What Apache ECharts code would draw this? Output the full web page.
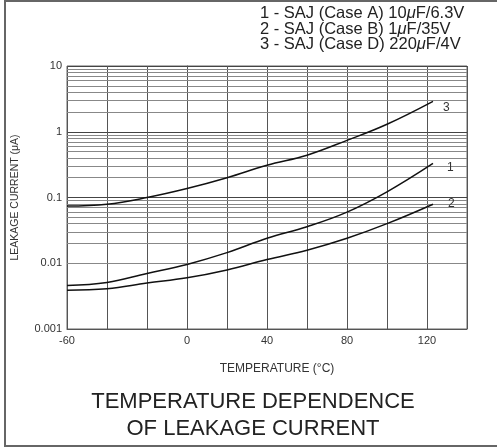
<!DOCTYPE html>
<html>
<head>
<meta charset="utf-8">
<script src="https://cdn.jsdelivr.net/npm/echarts@6/dist/echarts.min.js"></script>
<style>
  html, body { margin: 0; padding: 0; background: #fff; }
  #main { width: 497px; height: 448px; }
</style>
</head>
<body>
<div id="main"></div>
<script>
// temperature (°C) where the curves were read
var temps = [-60, -40, -20, 0, 20, 40, 60, 80, 100, 123];
// leakage current (µA)
var caseA = [0.0046, 0.0051, 0.0070, 0.0096, 0.0145, 0.024, 0.036, 0.060, 0.122, 0.33];
var caseB = [0.0039, 0.0041, 0.0050, 0.0060, 0.0079, 0.0114, 0.0158, 0.024, 0.040, 0.079];
var caseD = [0.074, 0.079, 0.100, 0.137, 0.200, 0.31, 0.44, 0.74, 1.30, 2.9];

var xLabels = [-60, 0, 40, 80, 120];
var yLabels = [0.001, 0.01, 0.1, 1, 10];
var decades = [0.001, 0.01, 0.1, 1];
var minorSteps = [2, 3, 4, 5, 6, 7, 8, 9];

var legendLines = [
  ['1 - SAJ (Case A) 10', 'F/6.3V'],
  ['2 - SAJ (Case B) 1', 'F/35V'],
  ['3 - SAJ (Case D) 220', 'F/4V']
];

var FONT = 'Liberation Sans, Arial, sans-serif';

function pairs(vals) {
  return temps.map(function (t, i) { return [t, vals[i]]; });
}

// minor log grid lines (2..9 in every decade)
var minorLines = [];
decades.forEach(function (d) {
  minorSteps.forEach(function (m) {
    minorLines.push({ yAxis: +(d * m).toPrecision(3) });
  });
});

function curve(name, vals, off) {
  return {
    name: name,
    type: 'line',
    data: pairs(vals),
    smooth: 0.4,
    symbol: 'none',
    lineStyle: { color: '#111', width: 1.5 },
    endLabel: {
      show: true,
      formatter: name,
      color: '#333',
      fontFamily: FONT,
      fontSize: 12,
      offset: off
    },
    z: 5
  };
}

var legendText = legendLines.map(function (p) {
  return '{t|' + p[0] + '}{mu|\u03bc}{t|' + p[1] + '}';
}).join('\n');

var myChart = echarts.init(document.getElementById('main'));

var option = {
  animation: false,
  backgroundColor: '#fff',
  grid: {
    left: 67,
    top: 66,
    right: 30,
    bottom: 119,
    show: true,
    borderColor: '#666',
    borderWidth: 1
  },
  xAxis: {
    type: 'value',
    min: -60,
    max: 140,
    interval: 20,
    name: 'TEMPERATURE (\u00b0C)',
    nameLocation: 'middle',
    nameGap: 34,
    nameTextStyle: { fontFamily: FONT, fontSize: 12, color: '#333', padding: [0, 0, 0, 20] },
    axisLine: { show: true, lineStyle: { color: '#555' } },
    axisTick: { show: false },
    splitLine: { show: true, lineStyle: { color: '#555', width: 1 } },
    axisLabel: {
      color: '#333',
      fontFamily: FONT,
      fontSize: 11,
      margin: 6,
      formatter: function (v) {
        return xLabels.indexOf(v) >= 0 ? String(v) : '';
      }
    }
  },
  yAxis: {
    type: 'log',
    logBase: 10,
    min: 0.001,
    max: 10,
    name: 'LEAKAGE CURRENT (\u03bcA)',
    nameLocation: 'middle',
    nameGap: 46,
    nameTextStyle: { fontFamily: FONT, fontSize: 10.5, color: '#333' },
    axisLine: { show: true, lineStyle: { color: '#555' } },
    axisTick: { show: false },
    splitLine: { show: true, lineStyle: { color: '#444', width: 1 } },
    axisLabel: {
      color: '#333',
      fontFamily: FONT,
      fontSize: 11,
      margin: 5,
      formatter: function (v) {
        for (var i = 0; i < yLabels.length; i++) {
          if (Math.abs(v / yLabels[i] - 1) < 1e-6) return String(yLabels[i]);
        }
        return '';
      }
    }
  },
  series: [
    {
      name: 'grid',
      type: 'line',
      data: [],
      silent: true,
      markLine: {
        silent: true,
        symbol: 'none',
        label: { show: false },
        lineStyle: { color: '#888', width: 1, type: 'solid' },
        data: minorLines
      }
    },
    curve('1', caseA, [6, 4]),
    curve('2', caseB, [7, -1]),
    curve('3', caseD, [2, 6])
  ],
  graphic: [
    {
      type: 'rect',
      shape: { x: 5, y: 1, width: 500, height: 445 },
      style: { fill: 'none', stroke: '#666', lineWidth: 2 },
      silent: true
    },
    {
      type: 'text',
      x: 260,
      y: 6,
      style: {
        text: legendText,
        rich: {
          t: { font: '16.5px ' + FONT, fill: '#222', lineHeight: 15.5 },
          mu: { font: 'italic 16.5px ' + FONT, fill: '#222', lineHeight: 15.5 }
        }
      }
    },
    {
      type: 'text',
      x: 253,
      y: 388,
      style: {
        text: 'TEMPERATURE DEPENDENCE\nOF LEAKAGE CURRENT',
        font: '22px ' + FONT,
        fill: '#222',
        align: 'center',
        lineHeight: 27
      }
    }
  ]
};

myChart.setOption(option);
</script>
</body>
</html>
